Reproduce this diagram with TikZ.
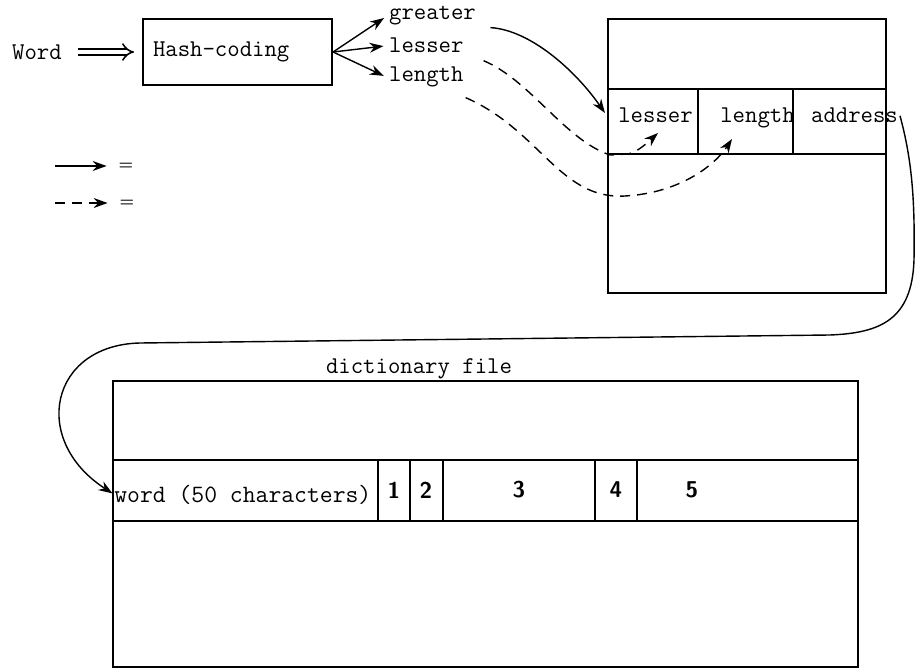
\documentclass[tikz,border=0pt]{standalone}
\usetikzlibrary{arrows.meta,positioning}
\tikzset{
  txt/.style   ={font=\fontsize{13.7}{16}\selectfont\ttfamily,inner sep=1pt},
  num/.style   ={font=\fontsize{13}{15}\selectfont\sffamily\bfseries,inner sep=1pt},
  eqs/.style   ={font=\fontsize{9}{9}\selectfont\bfseries,inner sep=1pt},
  hashbox/.style={draw,line width=1.2pt,txt,align=left,text width=3.38cm,
                 inner xsep=0.2cm,minimum height=1.32cm},
  frame/.style ={line width=1.2pt},
  ar/.style    ={-{Stealth[length=2.8mm,width=2mm]},line width=0.8pt},
  dsh/.style   ={ar,dash pattern=on 0.2cm off 0.14cm},
  dbl/.style   ={double,double distance=0.09cm,line width=0.9pt,-{Implies}},
}

\begin{document}
\begin{tikzpicture}[x=0.02cm,y=-0.02cm]
\useasboundingbox (0,0) rectangle (917,672);
% word -> hash coder -> keys
\node[hashbox] (HC) at (237.5,52) {Hash-coding};
\node[txt] (W) at (37,52) {Word};
\node[txt,anchor=base west] (GR) at (387,20) {greater};
\node[txt,anchor=base west] (LS) at (387,53) {lesser};
\node[txt,anchor=base west] (LN) at (387,82) {length};

% ---- legend -----------------------------------------------------------
\coordinate (L1) at (55,166);
\coordinate (L2) at (55,203);
\node[eqs] (EQ1) at (126,166) {=};
\node[eqs] (EQ2) at (127,203) {=};

% ---- hash table -------------------------------------------------------
\draw[frame] (608,19) rectangle (886,293);
\draw[frame] (608,89) -- (886,89) (608,154) -- (886,154)
             (698,89) -- (698,154) (793,89) -- (793,154);
\node[txt,anchor=base] (TLS) at (655.5,123) {lesser};
\node[txt,anchor=base] (TLN) at (757.5,123) {length};
\node[txt,anchor=base] (TAD) at (854.5,123) {address};
\coordinate (TIN) at (605,113);
\coordinate (LSTIP) at (658,133);
\coordinate (LNTIP) at (732,139);

% ---- dictionary file --------------------------------------------------
\node[txt] (DF) at (419,369) {dictionary file};
\draw[frame] (113,381) rectangle (858,667);
\draw[frame] (113,460) -- (858,460) (113,521) -- (858,521);
\foreach \x in {378,410,443,595,637}
  \draw[frame] (\x,460) -- (\x,521);
\node[txt,font=\fontsize{14.2}{16}\selectfont\ttfamily,anchor=base west,inner sep=0pt]
  (WD) at (114,502) {word (50 characters)};
\foreach \n/\x in {1/394,2/426,3/519,4/616,5/692}
  \node[num] (F\n) at (\x,490) {\n};

% ---- edges ------------------------------------------------------------
\draw[dbl,shorten <=0.28cm,shorten >=0.16cm] (W) -- (HC);
\foreach \t in {GR,LS,LN}
  \draw[ar,shorten >=2pt] (HC.east) -- (\t.west);

\draw[ar,shorten >=0.2cm] (L1) -- (EQ1.west);
\draw[dsh,shorten >=0.2cm] (L2) -- (EQ2.west);

\draw[ar] ([xshift=0.25cm]GR.south east) .. controls (530,30) and (575,70) .. (TIN);
\draw[dsh] ([xshift=0.36cm,yshift=-0.3cm]LS.east)
  .. controls (530,80) and (565,140) .. (610,155) -- (628,154)
  .. controls (638,152) and (648,142) .. (LSTIP);
\draw[dsh] ([yshift=-0.16cm]LN.south east)
  .. controls (540,130) and (560,200) .. (625,196)
  .. controls (680,193) and (715,165) .. (LNTIP);

\draw[ar,shorten >=1pt] (TAD.east) .. controls (912,160) and (915,200) .. (914,260)
  .. controls (912,320) and (880,333) .. (830,335) -- (140,343)
  .. controls (50,345) and (30,440) .. (WD.west);
\end{tikzpicture}
\end{document}
